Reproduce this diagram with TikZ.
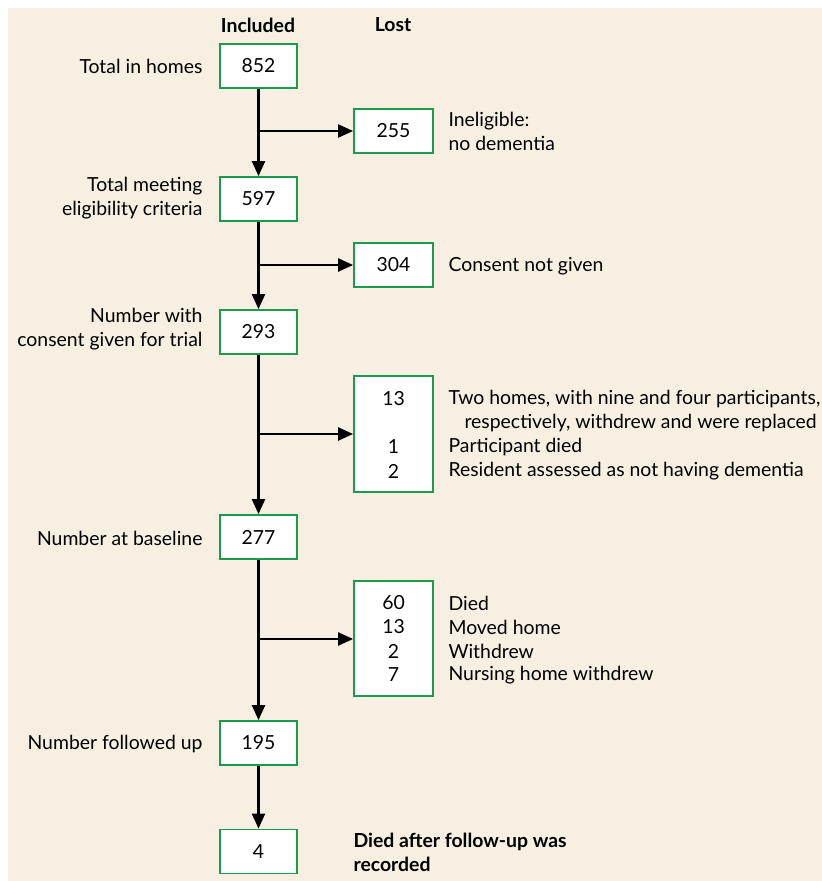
\documentclass[tikz,border=0pt]{standalone}
\usepackage{fontspec}
\setmainfont{Lato}
\usetikzlibrary{arrows.meta}
\definecolor{bg}{HTML}{F6EFE2}
\definecolor{boxgreen}{HTML}{1E9A4C}
\tikzset{
  box/.style={draw=boxgreen, line width=1.8pt, fill=white, inner sep=0pt},
  fnt/.style={font=\fontsize{19.4}{24}\selectfont},
  lbl/.style={fnt, anchor=east, align=right},
  txt/.style={fnt, anchor=west, align=left},
  num/.style={fnt},
  hdr/.style={font=\fontsize{19.4}{24}\selectfont\bfseries},
  arr/.style={line width=2.2pt, -{Triangle[length=15pt,width=13pt]}},
}
\begin{document}
\begin{tikzpicture}[x=1pt,y=-1pt]
\useasboundingbox (0,0) rectangle (822,881);
\fill[white] (0,0) rectangle (822,881);
\fill[bg] (8,8) rectangle (822,881);
% headers
\node[hdr] (hinc) at (258,25) {Included};
\node[hdr] (hlost) at (393,25) {Lost};
% included boxes
\node[box, minimum width=77pt, minimum height=44pt, num] (b852) at (258.5,66) {852};
\node[box, minimum width=77pt, minimum height=44pt, num] (b597) at (258.5,199) {597};
\node[box, minimum width=77pt, minimum height=44pt, num] (b293) at (258.5,332) {293};
\node[box, minimum width=77pt, minimum height=44pt, num] (b277) at (258.5,537) {277};
\node[box, minimum width=77pt, minimum height=44pt, num] (b195) at (258.5,743) {195};
\node[box, minimum width=77pt, minimum height=44pt, num] (b4) at (258.5,851.5) {4};
% lost boxes
\node[box, minimum width=79pt, minimum height=44pt, num] (b255) at (393.5,131) {255};
\node[box, minimum width=79pt, minimum height=44pt, num] (b304) at (393.5,265) {304};
\node[box, minimum width=79pt, minimum height=116pt] (bl3) at (393.5,434) {};
\node[box, minimum width=79pt, minimum height=115pt] (bl4) at (393.5,638.5) {};
% left labels
\node[lbl] (l1) at (206,66) {Total in homes};
\node[lbl] (l2) at (206,198) {Total meeting\\eligibility criteria};
\node[lbl] (l3) at (206,329) {Number with\\consent given for trial};
\node[lbl] (l4) at (206,538) {Number at baseline};
\node[lbl] (l5) at (206,744) {Number followed up};
% right texts
\node[txt] (r1) at (445,131) {Ineligible:\\no dementia};
\node[txt] (r2) at (445,266) {Consent not given};
\node[num] (n13) at (393.5,399) {13};
\node[num] (n1) at (393.5,447) {1};
\node[num] (n2) at (393.5,471) {2};
\node[txt] (t13) at (445,399) {Two homes, with nine and four participants,};
\node[txt] (t13b) at (461,423) {respectively, withdrew and were replaced};
\node[txt] (t1) at (445,447) {Participant died};
\node[txt] (t2) at (445,471) {Resident assessed as not having dementia};
\node[num] (m60) at (393.5,603) {60};
\node[num] (m13) at (393.5,627) {13};
\node[num] (m2) at (393.5,651) {2};
\node[num] (m7) at (393.5,675) {7};
\node[txt] (s60) at (445,603) {Died};
\node[txt] (s13) at (445,627) {Moved home};
\node[txt] (s2) at (445,651) {Withdrew};
\node[txt] (s7) at (445,675) {Nursing home withdrew};
\node[txt, font=\fontsize{19.4}{24}\selectfont\bfseries] (dd) at (350,852) {Died after follow-up was\\recorded};
% branch points
\coordinate (j1) at (258.5,131);
\coordinate (j2) at (258.5,265);
\coordinate (j3) at (258.5,434);
\coordinate (j4) at (258.5,639);
% connectors
\draw[arr] (b852.south) -- (b597.north);
\draw[arr] (b597.south) -- (b293.north);
\draw[arr] (b293.south) -- (b277.north);
\draw[arr] (b277.south) -- (b195.north);
\draw[arr] (b195.south) -- (b4.north);
\draw[arr] (j1) -- (b255.west);
\draw[arr] (j2) -- (b304.west);
\draw[arr] (j3) -- (bl3.west);
\draw[arr] (j4) -- (j4 -| bl4.west);
\end{tikzpicture}
\end{document}
